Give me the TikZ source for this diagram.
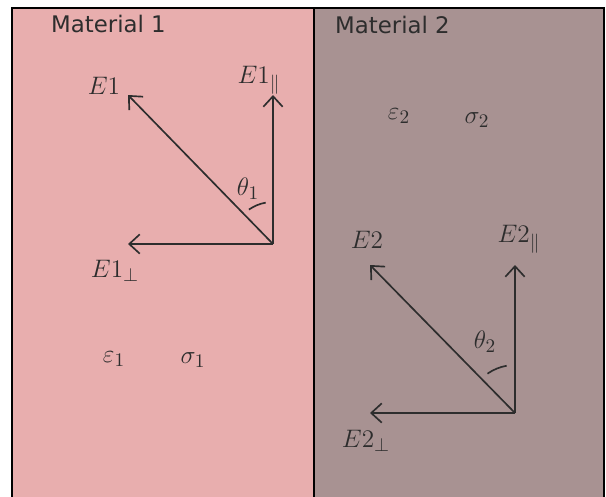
\documentclass[tikz,border=0pt]{standalone}
\usepackage{fontspec}
\setsansfont{DejaVu Sans}
\usepackage{amsmath}
\usetikzlibrary{arrows.meta}

\definecolor{matone}{RGB}{232,174,174}
\definecolor{mattwo}{RGB}{168,146,146}
\definecolor{inkgray}{RGB}{45,45,45}

\begin{document}
\begin{tikzpicture}[
    x=0.02cm,
    y=-0.02cm,
    title/.style={
        font=\sffamily\fontsize{13}{15}\selectfont,
        text=inkgray,
        anchor=west
    },
    lbl/.style={
        font=\fontsize{15}{17}\selectfont,
        text=inkgray,
        inner sep=1pt
    },
    vec/.style={
        -{Straight Barb[length=6pt,width=11pt]},
        line width=0.95pt,
        draw=inkgray
    },
    angarc/.style={
        line width=0.95pt,
        draw=inkgray
    }
]
\useasboundingbox (0,0) rectangle (606,497);

% Materials
\fill[matone] (12,8) rectangle (314,500);
\fill[mattwo] (314,8) rectangle (604,500);
\draw[line width=1.7pt] (12,500) -- (12,8) -- (604,8) -- (604,500);
\draw[line width=1.7pt] (314,8) -- (314,500);

\node[title] (mat1) at (45,24) {Material 1};
\node[title] (mat2) at (329,25) {Material 2};

% Material 1 field
\coordinate (o1) at (273,244);
\coordinate (e1tip) at (128,95);
\coordinate (e1par) at (273,95);
\coordinate (e1perp) at (128,244);

\draw[vec] (o1) -- (e1tip);
\draw[vec] (o1) -- (e1par);
\draw[vec] (o1) -- (e1perp);
\draw[angarc] (o1) ++(-100:42) arc[start angle=-100, end angle=-125, radius=42];

\node[lbl] (e1) at (104,86) {$E1$};
\node[lbl] (e1p) at (259,80) {$E1_{\parallel}$};
\node[lbl] (e1o) at (115,271) {$E1_{\perp}$};
\node[lbl] (th1) at (248,189) {$\theta_1$};
\node[lbl] (eps1) at (114,359) {$\varepsilon_1$};
\node[lbl] (sig1) at (193,360) {$\sigma_1$};

% Material 2 field
\coordinate (o2) at (515,413);
\coordinate (e2tip) at (370,265);
\coordinate (e2par) at (515,265);
\coordinate (e2perp) at (370,413);

\draw[vec] (o2) -- (e2tip);
\draw[vec] (o2) -- (e2par);
\draw[vec] (o2) -- (e2perp);
\draw[angarc] (o2) ++(-100:48) arc[start angle=-100, end angle=-125, radius=48];

\node[lbl] (e2) at (367,240) {$E2$};
\node[lbl] (e2p) at (519,239) {$E2_{\parallel}$};
\node[lbl] (e2o) at (366,441) {$E2_{\perp}$};
\node[lbl] (th2) at (485,342) {$\theta_2$};
\node[lbl] (eps2) at (399,116) {$\varepsilon_2$};
\node[lbl] (sig2) at (477,120) {$\sigma_2$};

\end{tikzpicture}
\end{document}
